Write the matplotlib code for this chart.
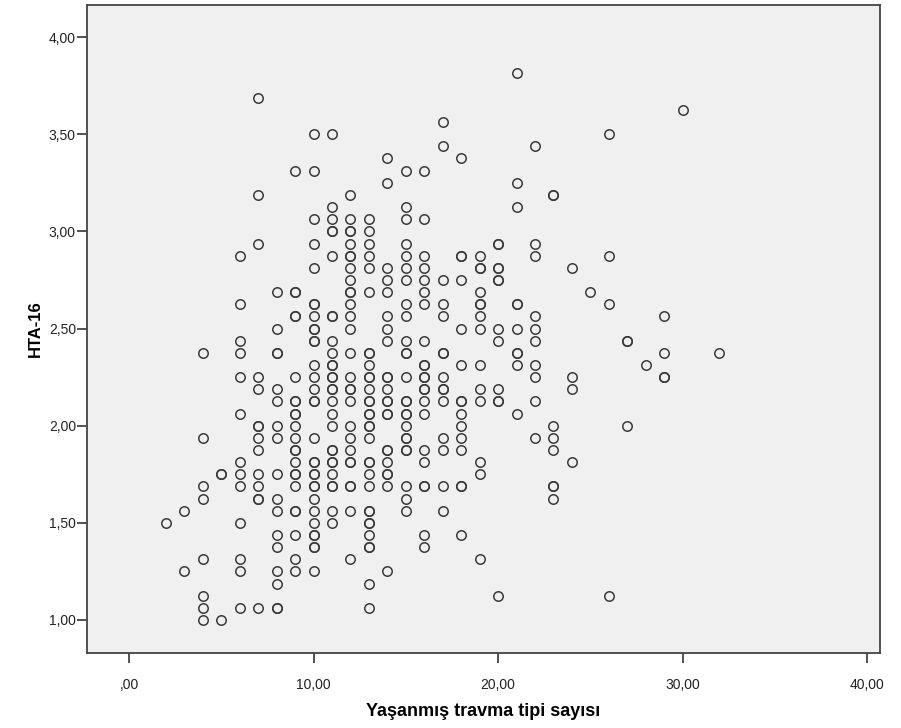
import matplotlib
matplotlib.use("Agg")
import matplotlib.pyplot as plt

# Yaşanmış travma tipi sayısı -> HTA-16 values (one list per x value)
travma = [2, 3, 4, 5, 6, 7, 8, 9, 10, 11, 12, 13, 14, 15, 16, 17, 18, 19, 20,
          21, 22, 23, 24, 25, 26, 27, 28, 29, 30, 32]

hta_2 = [1.5]
hta_3 = [1.5625, 1.25]
hta_4 = [2.375, 1.9375, 1.6875, 1.625, 1.3125, 1.125, 1.0625, 1.0]
hta_5 = [1.75, 1.75, 1.0]
hta_6 = [2.875, 2.625, 2.4375, 2.375, 2.25, 2.0625, 1.8125, 1.75, 1.6875,
         1.5, 1.3125, 1.25, 1.0625]
hta_7 = [3.6875, 3.1875, 2.9375, 2.25, 2.1875, 2.0, 2.0, 1.9375, 1.875, 1.75,
         1.6875, 1.625, 1.625, 1.0625]
hta_8 = [2.6875, 2.5, 2.375, 2.375, 2.1875, 2.125, 2.0, 1.9375, 1.75, 1.625,
         1.5625, 1.4375, 1.375, 1.25, 1.1875, 1.0625, 1.0625]
hta_9 = [3.3125, 2.6875, 2.6875, 2.5625, 2.5625, 2.25, 2.125, 2.125, 2.0625,
         2.0625, 2.0, 1.9375, 1.875, 1.875, 1.8125, 1.75, 1.75, 1.6875,
         1.5625, 1.5625, 1.4375, 1.3125, 1.25]
hta_10 = [3.5, 3.3125, 3.0625, 2.9375, 2.8125, 2.625, 2.625, 2.5625, 2.5, 2.5,
          2.4375, 2.4375, 2.3125, 2.25, 2.1875, 2.125, 2.125, 1.9375, 1.8125,
          1.8125, 1.75, 1.75, 1.6875, 1.6875, 1.625, 1.5625, 1.5, 1.4375,
          1.4375, 1.375, 1.375, 1.25]
hta_11 = [3.5, 3.125, 3.0625, 3.0, 3.0, 2.875, 2.5625, 2.5625, 2.4375, 2.375,
          2.3125, 2.3125, 2.25, 2.25, 2.1875, 2.1875, 2.125, 2.0625, 2.0,
          1.875, 1.875, 1.8125, 1.8125, 1.75, 1.6875, 1.6875, 1.5625, 1.5]
hta_12 = [3.1875, 3.0625, 3.0, 3.0, 2.9375, 2.875, 2.875, 2.8125, 2.75, 2.6875,
          2.6875, 2.625, 2.5625, 2.5, 2.375, 2.25, 2.1875, 2.1875, 2.125, 2.0,
          1.9375, 1.875, 1.8125, 1.8125, 1.6875, 1.6875, 1.5625, 1.3125]
hta_13 = [3.0625, 3.0, 2.9375, 2.875, 2.8125, 2.6875, 2.375, 2.375, 2.3125,
          2.25, 2.25, 2.1875, 2.125, 2.125, 2.0625, 2.0625, 2.0, 2.0, 1.9375,
          1.8125, 1.8125, 1.75, 1.6875, 1.5625, 1.5625, 1.5, 1.5, 1.4375,
          1.375, 1.375, 1.1875, 1.0625]
hta_14 = [3.375, 3.25, 2.8125, 2.75, 2.6875, 2.5625, 2.5, 2.4375, 2.25, 2.25,
          2.1875, 2.125, 2.125, 2.0625, 2.0625, 1.875, 1.875, 1.8125, 1.75,
          1.75, 1.6875, 1.25]
hta_15 = [3.3125, 3.125, 3.0625, 2.9375, 2.875, 2.8125, 2.75, 2.625, 2.5625,
          2.4375, 2.375, 2.375, 2.25, 2.125, 2.125, 2.0625, 2.0625, 2.0,
          1.9375, 1.9375, 1.875, 1.875, 1.6875, 1.625, 1.5625]
hta_16 = [3.3125, 3.0625, 2.875, 2.8125, 2.75, 2.6875, 2.625, 2.4375, 2.3125,
          2.3125, 2.25, 2.25, 2.1875, 2.1875, 2.125, 2.0625, 1.875, 1.8125,
          1.6875, 1.6875, 1.4375, 1.375]
hta_17 = [3.5625, 3.4375, 2.75, 2.625, 2.5625, 2.375, 2.375, 2.25, 2.1875,
          2.1875, 2.125, 1.9375, 1.875, 1.6875, 1.5625]
hta_18 = [3.375, 2.875, 2.875, 2.75, 2.5, 2.3125, 2.125, 2.125, 2.0625, 2.0,
          1.9375, 1.875, 1.6875, 1.6875, 1.4375]
hta_19 = [2.875, 2.8125, 2.8125, 2.6875, 2.625, 2.625, 2.5625, 2.5, 2.3125,
          2.1875, 2.125, 1.8125, 1.75, 1.3125]
hta_20 = [2.9375, 2.9375, 2.8125, 2.8125, 2.75, 2.75, 2.5, 2.4375, 2.1875,
          2.125, 2.125, 1.125]
hta_21 = [3.8125, 3.25, 3.125, 2.625, 2.625, 2.5, 2.375, 2.375, 2.3125, 2.0625]
hta_22 = [3.4375, 2.9375, 2.875, 2.5625, 2.5, 2.4375, 2.3125, 2.25, 2.125,
          1.9375]
hta_23 = [3.1875, 3.1875, 2.0, 1.9375, 1.875, 1.6875, 1.6875, 1.625]
hta_24 = [2.8125, 2.25, 2.1875, 1.8125]
hta_25 = [2.6875]
hta_26 = [3.5, 2.875, 2.625, 1.125]
hta_27 = [2.4375, 2.4375, 2.0]
hta_28 = [2.3125]
hta_29 = [2.5625, 2.375, 2.25, 2.25]
hta_30 = [3.625]
hta_32 = [2.375]

hta = [hta_2, hta_3, hta_4, hta_5, hta_6, hta_7, hta_8, hta_9, hta_10, hta_11,
       hta_12, hta_13, hta_14, hta_15, hta_16, hta_17, hta_18, hta_19, hta_20,
       hta_21, hta_22, hta_23, hta_24, hta_25, hta_26, hta_27, hta_28, hta_29,
       hta_30, hta_32]

x_ticks = [0, 10, 20, 30, 40]
x_labels = [",00", "10,00", "20,00", "30,00", "40,00"]
y_ticks = [1.0, 1.5, 2.0, 2.5, 3.0, 3.5, 4.0]
y_labels = ["1,00", "1,50", "2,00", "2,50", "3,00", "3,50", "4,00"]

xs = []
ys = []
for k, vals in zip(travma, hta):
    for v in vals:
        xs.append(k)
        ys.append(v)

fig = plt.figure(figsize=(9.01, 7.28), dpi=100)
ax = fig.add_axes([87 / 901, 1 - 653 / 728, (880 - 87) / 901, (653 - 5) / 728])
ax.set_facecolor("#f0f0f0")

ax.plot(xs, ys, linestyle="none", marker="o", markersize=6.8,
        markerfacecolor="none", markeredgecolor="#3a3a3a", markeredgewidth=1.1)

ax.set_xlim(-2.28, 40.7)
ax.set_ylim(0.83, 4.165)

ax.set_xticks(x_ticks)
ax.set_xticklabels(x_labels)
ax.set_yticks(y_ticks)
ax.set_yticklabels(y_labels)

lab_font = ["Liberation Sans", "DejaVu Sans"]
for t in ax.get_xticklabels() + ax.get_yticklabels():
    t.set_family(lab_font)
    t.set_fontsize(10)
    t.set_color("#222222")

ax.tick_params(axis="both", direction="out", length=7, width=1.3,
               color="#444444", pad=1)
ax.tick_params(axis="x", pad=11)

for s in ax.spines.values():
    s.set_color("#444444")
    s.set_linewidth(1.3)

ax.set_ylabel("HTA-16", fontsize=12, fontweight="bold", family=lab_font,
              labelpad=4)
ax.set_xlabel("Yaşanmış travma tipi sayısı", fontsize=13, fontweight="bold",
              family=lab_font, labelpad=8)

fig.savefig("out.png", dpi=100)
